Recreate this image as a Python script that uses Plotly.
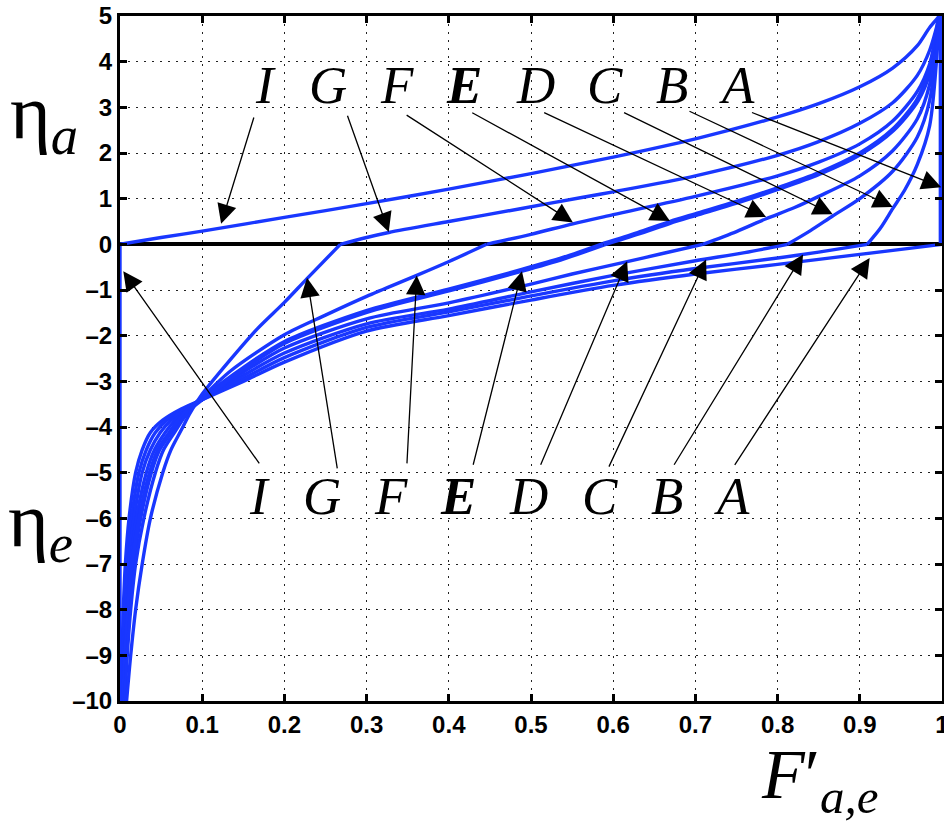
import plotly.graph_objects as go

# ---------------- data ----------------
# eta_e branches (below zero), one per case
A_e_x = [0.0015, 0.0025, 0.004, 0.0065, 0.011, 0.019, 0.027, 0.037, 0.052, 0.075, 0.1, 0.15, 0.2, 0.3, 0.4, 0.5, 0.6, 0.7, 0.8, 0.9, 1.0]
A_e_y = [-10, -9, -8, -7, -6, -5, -4.5, -4.12, -3.85, -3.6, -3.4, -3.0, -2.58, -1.9, -1.56, -1.22, -0.9, -0.65, -0.44, -0.22, 0]
B_e_x = [0.002, 0.0035, 0.0055, 0.0085, 0.014, 0.023, 0.032, 0.043, 0.057, 0.078, 0.1, 0.15, 0.2, 0.3, 0.4, 0.5, 0.6, 0.7, 0.8, 0.85, 0.909]
B_e_y = [-10, -9, -8, -7, -6, -5, -4.5, -4.12, -3.85, -3.6, -3.4, -2.94, -2.48, -1.82, -1.48, -1.13, -0.8, -0.53, -0.3, -0.17, 0]
C_e_x = [0.0027, 0.0045, 0.007, 0.0105, 0.017, 0.027, 0.037, 0.049, 0.062, 0.08, 0.1, 0.15, 0.2, 0.3, 0.4, 0.5, 0.6, 0.7, 0.76, 0.812]
C_e_y = [-10, -9, -8, -7, -6, -5, -4.5, -4.12, -3.85, -3.6, -3.4, -2.87, -2.38, -1.74, -1.42, -1.04, -0.68, -0.36, -0.18, 0]
D_e_x = [0.0034, 0.0055, 0.0085, 0.013, 0.02, 0.032, 0.042, 0.055, 0.067, 0.083, 0.1, 0.15, 0.2, 0.3, 0.4, 0.5, 0.55, 0.617, 0.66, 0.709]
D_e_y = [-10, -9, -8, -7, -6, -5, -4.5, -4.12, -3.85, -3.6, -3.39, -2.8, -2.27, -1.63, -1.28, -0.87, -0.65, -0.38, -0.2, 0]
E_e_x = [0.0043, 0.007, 0.0105, 0.0155, 0.024, 0.037, 0.047, 0.061, 0.072, 0.086, 0.1, 0.15, 0.2, 0.3, 0.4, 0.489, 0.54, 0.588]
E_e_y = [-10, -9, -8, -7, -6, -5, -4.5, -4.12, -3.85, -3.58, -3.38, -2.72, -2.15, -1.47, -1.0, -0.57, -0.3, 0]
F_e_x = [0.0055, 0.0088, 0.013, 0.019, 0.029, 0.043, 0.053, 0.067, 0.077, 0.09, 0.1, 0.134, 0.2, 0.25, 0.3, 0.361, 0.401, 0.446]
F_e_y = [-10, -9, -8, -7, -6, -5, -4.5, -4.1, -3.82, -3.52, -3.35, -2.78, -1.98, -1.55, -1.14, -0.68, -0.37, 0]
G_e_x = [0.008, 0.013, 0.019, 0.027, 0.037, 0.052, 0.062, 0.075, 0.085, 0.1, 0.134, 0.167, 0.2, 0.2275, 0.268]
G_e_y = [-10, -9, -8, -7, -6, -5, -4.5, -4.05, -3.7, -3.28, -2.53, -1.85, -1.27, -0.75, 0]
I_e_x = [0, 0]
I_e_y = [-10, 0]

# eta_a branches (above zero)
I_a_x = [0, 0.05, 0.1, 0.2, 0.3, 0.4, 0.5, 0.6, 0.7, 0.8, 0.85, 0.9, 0.94, 0.97, 0.985, 0.997]
I_a_y = [0, 0.15, 0.29, 0.59, 0.89, 1.21, 1.55, 1.91, 2.31, 2.79, 3.08, 3.45, 3.86, 4.35, 4.75, 5.0]
G_a_x = [0.268, 0.3, 0.327, 0.4, 0.487, 0.56, 0.6, 0.7, 0.8, 0.85, 0.9, 0.94, 0.97, 0.985, 0.997]
G_a_y = [0, 0.15, 0.26, 0.5, 0.78, 1.02, 1.15, 1.5, 1.95, 2.25, 2.65, 3.1, 3.7, 4.25, 5.0]
F_a_x = [0.446, 0.5, 0.551, 0.6, 0.7, 0.8, 0.85, 0.9, 0.94, 0.97, 0.985, 0.997]
F_a_y = [0, 0.22, 0.45, 0.65, 1.05, 1.5, 1.8, 2.2, 2.7, 3.35, 3.95, 5.0]
E_a_x = [0.588, 0.63, 0.669, 0.7, 0.75, 0.8, 0.85, 0.9, 0.94, 0.97, 0.985, 0.997]
E_a_y = [0, 0.24, 0.48, 0.65, 0.92, 1.22, 1.55, 1.98, 2.5, 3.15, 3.8, 5.0]
D_a_x = [0.709, 0.75, 0.786, 0.82, 0.85, 0.9, 0.94, 0.97, 0.985, 0.997]
D_a_y = [0, 0.28, 0.56, 0.8, 1.05, 1.5, 2.05, 2.75, 3.5, 5.0]
C_a_x = [0.812, 0.84, 0.867, 0.9, 0.94, 0.97, 0.985, 0.997]
C_a_y = [0, 0.3, 0.62, 1.0, 1.6, 2.35, 3.15, 5.0]
B_a_x = [0.909, 0.925, 0.94, 0.955, 0.97, 0.985, 0.997]
B_a_y = [0, 0.35, 0.78, 1.2, 1.75, 2.6, 5.0]
A_a_x = [0.998, 0.998]
A_a_y = [0, 5]

case_labels = ["I", "G", "F", "E", "D", "C", "B", "A"]

x_tickvals = [0, 0.1, 0.2, 0.3, 0.4, 0.5, 0.6, 0.7, 0.8, 0.9, 1]
x_ticktext = ["0", "0.1", "0.2", "0.3", "0.4", "0.5", "0.6", "0.7", "0.8", "0.9", "1"]
y_tickvals = [5, 4, 3, 2, 1, 0, -1, -2, -3, -4, -5, -6, -7, -8, -9, -10]
y_ticktext = ["5", "4", "3", "2", "1", "0", "\u20131", "\u20132", "\u20133", "\u20134", "\u20135",
              "\u20136", "\u20137", "\u20138", "\u20139", "\u201310"]

# ---------------- annotation layout positions ----------------
up_lab_x = [0.177, 0.253, 0.337, 0.418, 0.505, 0.59, 0.671, 0.75]
up_lab_y = 3.48
up_tail_x = [0.1634, 0.2761, 0.3469, 0.4267, 0.5142, 0.6114, 0.691, 0.767]
up_tail_y = [2.81, 2.85, 2.85, 2.90, 2.90, 2.90, 2.93, 2.90]
up_tip_x = [0.123, 0.327, 0.551, 0.669, 0.786, 0.867, 0.94, 0.999]
up_tip_y = [0.45, 0.27, 0.48, 0.51, 0.6, 0.66, 0.82, 1.25]

lo_lab_x = [0.17, 0.246, 0.3295, 0.4117, 0.4967, 0.584, 0.665, 0.744]
lo_lab_y = -5.5
lo_tail_x = [0.1707, 0.2646, 0.349, 0.4292, 0.511, 0.594, 0.673, 0.7467]
lo_tail_y = [-4.83, -4.94, -4.83, -4.86, -4.86, -4.90, -4.86, -4.86]
lo_tip_x = [0.004, 0.2275, 0.361, 0.489, 0.617, 0.713, 0.831, 0.912]
lo_tip_y = [-0.59, -0.73, -0.68, -0.59, -0.37, -0.33, -0.22, -0.30]

BLUE = "rgb(25,55,255)"

fig = go.Figure()

lower = [(A_e_x, A_e_y), (B_e_x, B_e_y), (C_e_x, C_e_y), (D_e_x, D_e_y),
         (E_e_x, E_e_y), (F_e_x, F_e_y), (G_e_x, G_e_y), (I_e_x, I_e_y)]
upper = [(I_a_x, I_a_y), (G_a_x, G_a_y), (F_a_x, F_a_y), (E_a_x, E_a_y),
         (D_a_x, D_a_y), (C_a_x, C_a_y), (B_a_x, B_a_y), (A_a_x, A_a_y)]

for xs, ys in lower + upper:
    w = 5.2 if (xs is E_e_x or xs is E_a_x) else 3.4
    fig.add_trace(go.Scatter(x=xs, y=ys, mode="lines",
                             line=dict(color=BLUE, width=w, shape="spline", smoothing=0.8),
                             cliponaxis=False, showlegend=False, hoverinfo="skip"))

ann = []
letter_font = dict(family="Liberation Serif", size=53, color="black")
arrow_style = dict(arrowhead=2, arrowsize=3.0, arrowwidth=1.3, arrowcolor="black", standoff=0)
for i, lab in enumerate(case_labels):
    txt = "<b><i>%s</i></b>" % lab if lab == "E" else "<i>%s</i>" % lab
    ann.append(dict(x=up_lab_x[i], y=up_lab_y, xref="x", yref="y", text=txt,
                    showarrow=False, font=letter_font, xanchor="center", yanchor="middle"))
    ann.append(dict(x=lo_lab_x[i], y=lo_lab_y, xref="x", yref="y", text=txt,
                    showarrow=False, font=letter_font, xanchor="center", yanchor="middle"))
    ann.append(dict(x=up_tip_x[i], y=up_tip_y[i], ax=up_tail_x[i], ay=up_tail_y[i],
                    xref="x", yref="y", axref="x", ayref="y", text="", showarrow=True, **arrow_style))
    ann.append(dict(x=lo_tip_x[i], y=lo_tip_y[i], ax=lo_tail_x[i], ay=lo_tail_y[i],
                    xref="x", yref="y", axref="x", ayref="y", text="", showarrow=True, **arrow_style))

serif = "Liberation Serif"
ann.append(dict(x=-0.092, y=0.852, xref="paper", yref="paper",
                text="\u03b7<sub><i>a</i></sub>", showarrow=False,
                font=dict(family=serif, size=78, color="black"), xanchor="center", yanchor="middle"))
ann.append(dict(x=-0.097, y=0.257, xref="paper", yref="paper",
                text="\u03b7<sub><i>e</i></sub>", showarrow=False,
                font=dict(family=serif, size=78, color="black"), xanchor="center", yanchor="middle"))
ann.append(dict(x=0.852, y=-0.116, xref="paper", yref="paper",
                text="<i>F</i>\u2032<sub><i>a,e</i></sub>", showarrow=False,
                font=dict(family=serif, size=70, color="black"), xanchor="center", yanchor="middle"))

tickfont = dict(family="Liberation Sans", size=24, color="black", weight="bold")
common = dict(showline=True, linecolor="black", linewidth=3, mirror="ticks",
              ticks="inside", ticklen=7, tickwidth=3, tickcolor="black",
              showgrid=True, gridcolor="#222", gridwidth=1, griddash="2px,6px",
              tickfont=tickfont, layer="above traces", ticklabeloverflow="allow",
              automargin=False)

fig.update_layout(
    width=944, height=821, autosize=False,
    margin=dict(l=120, r=2, t=16, b=120),
    paper_bgcolor="white", plot_bgcolor="white",
    annotations=ann,
    xaxis=dict(range=[0, 1], tickvals=x_tickvals, ticktext=x_ticktext, zeroline=False, **common),
    yaxis=dict(range=[-10, 5], tickvals=y_tickvals, ticktext=y_ticktext,
               zeroline=True, zerolinecolor="black", zerolinewidth=3.5, **common),
)

fig.write_html("out.html", config={"displayModeBar": False},
               post_script="document.body.style.margin='0';document.body.style.overflow='hidden';")
